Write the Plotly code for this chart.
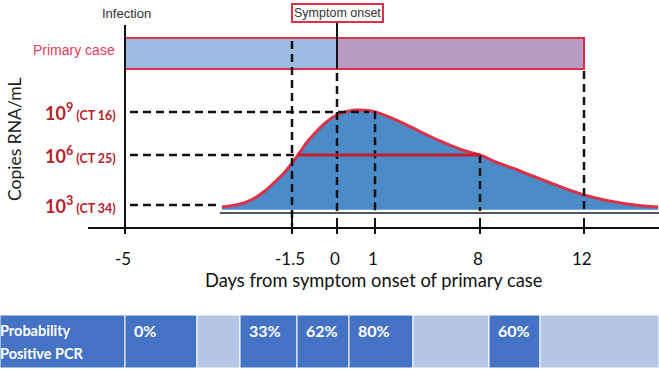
import numpy as np
import plotly.graph_objects as go

# ---------------- data ----------------
day_ticks = [-5, -1.5, 0, 1, 8, 12]
day_tick_labels = ["-5", "-1.5", "0", "1", "8", "12"]

log_levels = [9, 6, 3]
ct_values = [16, 25, 34]

# viral load curve (days from symptom onset, log10 copies/mL)
curve_days = [-2.97, -2.69, -2.48, -2.28, -2.07, -1.86, -1.65, -1.47, -1.23, -0.97,
              -0.70, -0.40, -0.07, 0.21, 0.50, 0.82, 1.33, 2.0, 3.0, 4.0,
              5.33, 6.87, 8.0, 8.65, 9.35, 9.92, 10.62, 11.27, 12.0, 12.62,
              13.19, 13.96, 14.85]
curve_log10 = [2.88, 3.0, 3.15, 3.42, 3.84, 4.38, 4.98, 5.58, 6.21, 6.98,
               7.60, 8.23, 8.72, 9.0, 9.14, 9.11, 8.90, 8.62, 8.16, 7.64,
               6.98, 6.33, 6.0, 5.55, 5.16, 4.80, 4.38, 3.99, 3.60, 3.36,
               3.18, 3.0, 2.88]

infection_day = -5
onset_day = 0
primary_end_day = 12
peak_day = 1
half_start_day, half_end_day = -1.30, 8   # period above 10^6
presymptomatic_day = -1.5

prob_labels = ["0%", "", "33%", "62%", "80%", "", "60%", ""]
prob_header = ["Probability", "Positive PCR"]

# ---------------- schematic scales ----------------
DAY_KNOTS = [-5, -1.5, 0, 1, 8, 12, 15]
DAY_PX = [125, 292, 337, 375, 480, 584, 662]
LOG_KNOTS = [2, 3, 6, 9, 10]
LOG_PX = [222, 205, 155, 112, 98]


def X(d):
    return float(np.interp(d, DAY_KNOTS, DAY_PX))


def Y(v):
    return float(np.interp(v, LOG_KNOTS, LOG_PX))


BLACK = "#111111"
RED = "#D9324A"
DARKRED = "#B8202C"
FILL = "#4A8BC8"
DARKCELL = "#4472C4"
LIGHTCELL = "#B4C7E7"
TXT = "Lato, 'Open Sans', sans-serif"
ARIAL = "Arial, 'Liberation Sans', sans-serif"

fig = go.Figure()
shapes = []
ann = []

# ---- primary case bar ----
box_top, box_bot = 38, 69
shapes.append(dict(type="rect", x0=X(infection_day), x1=X(onset_day), y0=box_top, y1=box_bot,
                   fillcolor="#9EBCE2", line=dict(width=0), layer="below"))
shapes.append(dict(type="rect", x0=X(onset_day), x1=X(primary_end_day), y0=box_top, y1=box_bot,
                   fillcolor="#B99BC1", line=dict(width=0), layer="below"))
shapes.append(dict(type="rect", x0=X(infection_day), x1=X(primary_end_day), y0=box_top, y1=box_bot,
                   fillcolor="rgba(0,0,0,0)", line=dict(color=RED, width=2)))

# ---- curve ----
cx = [X(d) for d in curve_days]
cy = [Y(v) for v in curve_log10]
base = Y(2.72)
fig.add_trace(go.Scatter(x=[cx[0], cx[-1]], y=[base, base], mode="lines",
                         line=dict(width=0, color=FILL), hoverinfo="skip"))
fig.add_trace(go.Scatter(x=cx, y=cy, mode="lines", fill="tonexty", fillcolor=FILL,
                         line=dict(color=RED, width=3, shape="spline", smoothing=1.0),
                         hoverinfo="skip"))

# grey baseline under curve
shapes.append(dict(type="line", x0=cx[0] - 2, x1=659, y0=213, y1=213,
                   line=dict(color="#555555", width=2)))

# ---- infection (y axis) line ----
shapes.append(dict(type="line", x0=X(infection_day), x1=X(infection_day), y0=25, y1=229,
                   line=dict(color=BLACK, width=2)))
# symptom onset solid part
shapes.append(dict(type="line", x0=X(onset_day), x1=X(onset_day), y0=22, y1=box_bot,
                   line=dict(color=BLACK, width=2)))

dash = "8px,5px"
# vertical dashed lines
vdash = [(presymptomatic_day, 41, 226), (onset_day, 73, 211), (peak_day, Y(9.05), 211),
         (half_end_day, Y(6), 211), (primary_end_day, box_bot + 2, 211)]
for d, y0, y1 in vdash:
    shapes.append(dict(type="line", x0=X(d), x1=X(d), y0=y0, y1=y1,
                       line=dict(color=BLACK, width=2.5, dash=dash)))

# horizontal dashed lines
hdash_end = {9: X(peak_day) - 6, 6: X(half_start_day), 3: cx[0] - 3}
for lv in log_levels:
    shapes.append(dict(type="line", x0=130, x1=hdash_end[lv], y0=Y(lv), y1=Y(lv),
                       line=dict(color=BLACK, width=2.5, dash=dash)))
# red line above 10^6
shapes.append(dict(type="line", x0=X(half_start_day), x1=X(half_end_day), y0=Y(6), y1=Y(6),
                   line=dict(color="#C0202C", width=3)))

# ---- x axis ----
axis_y = 228
shapes.append(dict(type="line", x0=88, x1=659, y0=axis_y, y1=axis_y, line=dict(color=BLACK, width=2)))
for d, lab in zip(day_ticks, day_tick_labels):
    shapes.append(dict(type="line", x0=X(d), x1=X(d), y0=218, y1=234, line=dict(color=BLACK, width=2)))
    ann.append(dict(x=X(d) - 2, y=258, text=lab, showarrow=False, xanchor="center", yanchor="middle",
                    font=dict(family=TXT, size=17, color=BLACK)))
ann.append(dict(x=373, y=280, text="Days from symptom onset of primary case", showarrow=False,
                xanchor="center", yanchor="middle", font=dict(family=TXT, size=18.3, color=BLACK)))

# ---- y labels ----
for lv, ct in zip(log_levels, ct_values):
    ann.append(dict(x=118, y=Y(lv), xanchor="right", yanchor="middle", showarrow=False,
                    text=f"<b><span style='font-size:18px'>10<sup>{lv}</sup></span> (CT {ct})</b>",
                    font=dict(family=TXT, size=12.5, color=DARKRED)))
ann.append(dict(x=14, y=139, text="Copies RNA/mL", textangle=-90, showarrow=False,
                xanchor="center", yanchor="middle", font=dict(family=TXT, size=17.5, color="#222222")))

# ---- top texts ----
ann.append(dict(x=126, y=13, text="Infection", showarrow=False, xanchor="center", yanchor="middle",
                font=dict(family=ARIAL, size=13, color="#333333")))
ann.append(dict(x=117, y=50, text="Primary case", showarrow=False, xanchor="right", yanchor="middle",
                font=dict(family=ARIAL, size=14, color="#E0405A")))
ann.append(dict(x=X(onset_day), y=12.5, text="Symptom onset", showarrow=False, xanchor="center",
                yanchor="middle", bordercolor=RED, borderwidth=2, borderpad=1, bgcolor="white",
                font=dict(family=ARIAL, size=12.5, color="#333333")))

# ---- probability table ----
edges = [0, 125, 197, 240, 297, 349, 413, 489, 540, 659]
t0, t1 = 315, 368
shapes.append(dict(type="rect", x0=edges[0], x1=edges[1], y0=t0, y1=t1, fillcolor=DARKCELL,
                   line=dict(color="white", width=1)))
for txt, yy in zip(prob_header, [330, 353]):
    ann.append(dict(x=0, y=yy, xshift=-2, text=f"<b>{txt}</b>", showarrow=False, xanchor="left",
                    yanchor="middle", font=dict(family=TXT, size=14.5, color="white")))
for i, lab in enumerate(prob_labels):
    a, b = edges[i + 1], edges[i + 2]
    shapes.append(dict(type="rect", x0=a, x1=b, y0=t0, y1=t1,
                       fillcolor=DARKCELL if lab else LIGHTCELL, line=dict(color="white", width=1)))
    if lab:
        ann.append(dict(x=a + 7, y=330, text=f"<b>{lab}</b>", showarrow=False, xanchor="left",
                        yanchor="middle", font=dict(family=TXT, size=16, color="white")))

fig.update_layout(
    width=659, height=378, margin=dict(l=0, r=0, t=0, b=0),
    paper_bgcolor="white", plot_bgcolor="white", showlegend=False,
    xaxis=dict(range=[0, 659], visible=False, fixedrange=True),
    yaxis=dict(range=[378, 0], visible=False, fixedrange=True),
    shapes=shapes, annotations=ann,
)
fig.write_html("out.html", config={"displayModeBar": False},
               post_script="document.body.style.margin='0';")
